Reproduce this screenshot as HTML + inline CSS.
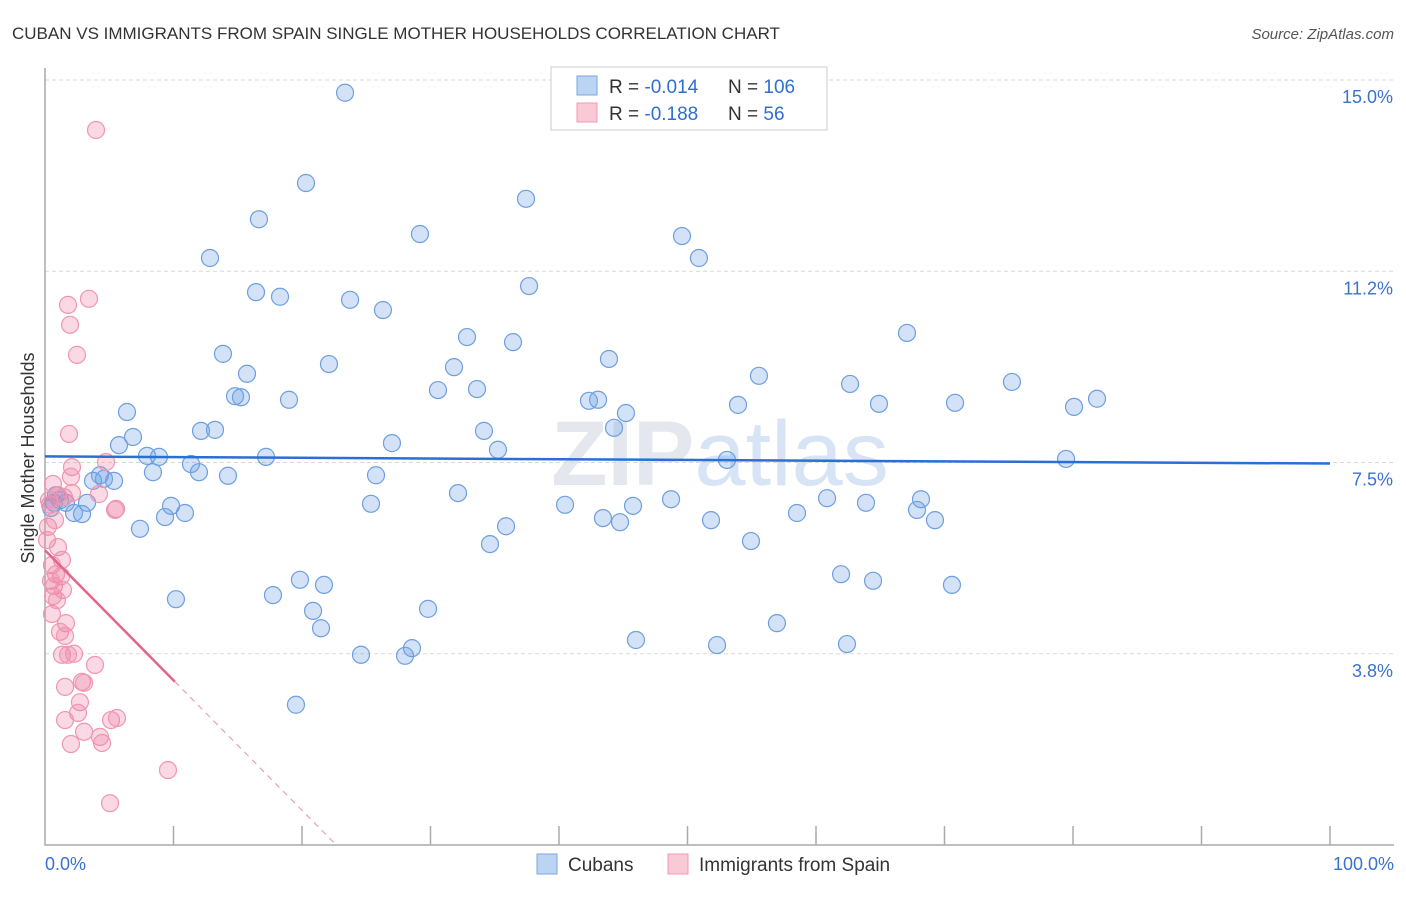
<!DOCTYPE html>
<html><head><meta charset="utf-8"><style>
body{margin:0;background:#fff;font-family:"Liberation Sans",sans-serif;}
svg text{font-family:"Liberation Sans",sans-serif;}
</style></head><body>
<svg id="chart" width="1406" height="892" xmlns="http://www.w3.org/2000/svg">
<text x="12" y="39" font-size="17" fill="#333">CUBAN VS IMMIGRANTS FROM SPAIN SINGLE MOTHER HOUSEHOLDS CORRELATION CHART</text>
<text x="1394" y="39" font-size="15" fill="#555" text-anchor="end" font-style="italic">Source: ZipAtlas.com</text>
<text x="720" y="485" font-size="92" fill="#e4e8ee" text-anchor="middle" font-weight="bold">ZIP<tspan fill="#d6e4f5" font-weight="normal">atlas</tspan></text>
<g id="grid"></g>
<g id="axes"></g>
<g id="pts"></g>
<g id="trends"></g>
<text x="34" y="458" font-size="18" fill="#333" text-anchor="middle" transform="rotate(-90 34 458)">Single Mother Households</text>
<g>
<rect x="551" y="67" width="276" height="63" fill="#fff" stroke="#ccc"/>
<rect x="577" y="76" width="20" height="19" fill="#bcd4f3" stroke="#7aa6e0"/>
<rect x="577" y="103" width="20" height="19" fill="#f9c9d6" stroke="#f09ab2"/>
<text x="609" y="93" font-size="19" fill="#333">R = <tspan fill="#2f6fd0">-0.014</tspan></text>
<text x="728" y="93" font-size="19" fill="#333">N = <tspan fill="#2f6fd0">106</tspan></text>
<text x="609" y="120" font-size="19" fill="#333">R = <tspan fill="#2f6fd0"> -0.188</tspan></text>
<text x="728" y="120" font-size="19" fill="#333">N = <tspan fill="#2f6fd0">  56</tspan></text>
</g>
<g>
<rect x="537" y="854" width="20" height="20" fill="#bcd4f3" stroke="#7aa6e0"/>
<text x="568" y="871" font-size="19" fill="#333">Cubans</text>
<rect x="668" y="854" width="20" height="20" fill="#f9c9d6" stroke="#f09ab2"/>
<text x="699" y="871" font-size="19" fill="#333">Immigrants from Spain</text>
</g>
</svg>
<script>
const yTicks=[15.0,11.25,7.5,3.75];
const yTickLabels=["15.0%","11.2%","7.5%","3.8%"];
const xTicks=[10,20,30,40,50,60,70,80,90,100];
const xLabels=["0.0%","100.0%"];
const cubX=[23.35,20.31,37.43,16.65,29.18,49.57,12.84,50.89,16.42,18.29,37.67,23.74,26.30,67.08,32.84,36.42,13.85,43.89,22.10,31.83,15.72,55.56,75.25,30.58,33.62,62.65,14.79,15.25,18.99,43.04,42.33,53.93,64.90,70.82,81.87,80.08,6.38,45.21,44.28,34.16,12.14,13.23,6.85,27.00,5.76,35.25,7.94,8.87,17.20,53.07,79.46,11.36,8.40,11.98,25.76,14.24,4.28,5.37,4.59,3.74,32.14,48.72,60.86,63.89,68.17,25.37,40.47,45.76,9.81,0.70,1.63,3.27,1.17,10.89,67.86,58.52,43.42,51.83,69.26,2.26,2.88,9.34,44.75,7.39,35.88,0.47,54.94,34.63,61.95,64.44,19.84,70.58,21.71,17.74,10.19,20.86,29.81,21.48,56.96,45.99,52.30,62.41,24.59,28.56,28.02,19.53,0.86];
const cubY=[14.75,12.98,12.67,12.27,11.98,11.94,11.51,11.51,10.84,10.75,10.96,10.69,10.49,10.04,9.96,9.86,9.63,9.53,9.43,9.37,9.24,9.20,9.08,8.92,8.94,9.04,8.80,8.78,8.73,8.73,8.71,8.63,8.65,8.67,8.75,8.59,8.49,8.47,8.18,8.12,8.12,8.14,8.00,7.88,7.84,7.75,7.63,7.61,7.61,7.55,7.57,7.47,7.31,7.31,7.25,7.24,7.25,7.14,7.18,7.14,6.90,6.78,6.80,6.71,6.78,6.69,6.67,6.65,6.65,6.71,6.71,6.71,6.76,6.51,6.57,6.51,6.41,6.37,6.37,6.51,6.49,6.43,6.33,6.20,6.25,6.61,5.96,5.90,5.31,5.18,5.20,5.10,5.10,4.90,4.82,4.59,4.63,4.25,4.35,4.02,3.92,3.94,3.73,3.86,3.71,2.75,6.86];
const spX=[3.97,3.42,1.79,1.95,2.49,1.87,4.75,2.10,2.02,0.62,4.20,1.48,2.10,1.01,5.53,5.45,0.39,0.23,0.16,1.01,1.32,0.54,0.86,1.25,0.47,0.70,0.62,0.54,1.63,1.17,1.56,1.32,2.26,1.79,3.89,2.88,3.04,1.56,2.72,2.57,1.56,5.14,5.60,3.04,4.28,2.02,4.44,9.57,5.06,0.31,0.78,1.40,0.93];
const spY=[14.02,10.71,10.59,10.20,9.61,8.06,7.51,7.41,7.22,7.08,6.88,6.82,6.90,6.86,6.59,6.57,6.67,6.24,5.98,5.84,5.59,5.49,5.31,5.27,5.18,5.08,4.88,4.53,4.35,4.18,4.10,3.73,3.75,3.73,3.53,3.20,3.18,3.10,2.80,2.59,2.45,2.45,2.49,2.22,2.12,1.98,2.00,1.47,0.82,6.76,6.37,5.00,4.80];
const cubTrend=[7.62,7.48];
const spTrend=[5.78,-0.255];
const spSolidEnd=10.1;
const X=v=>45+v*12.85;
const Y=v=>845-v*51;
const NS="http://www.w3.org/2000/svg";
function mk(tag,attrs,parent){const e=document.createElementNS(NS,tag);for(const k in attrs)e.setAttribute(k,attrs[k]);parent.appendChild(e);return e;}
const grid=document.getElementById('grid'),axes=document.getElementById('axes'),pts=document.getElementById('pts'),tr=document.getElementById('trends');
yTicks.forEach((t,i)=>{
  const l=mk('line',{x1:45,x2:1394,y1:Y(t),y2:Y(t),stroke:'#d8d8d8','stroke-dasharray':'4,3'},grid);
  
  
  const tx=mk('text',{x:1393,y:Y(t)+23,'font-size':18,fill:'#3a72d0','text-anchor':'end'},grid);
  tx.textContent=yTickLabels[i];
  
  
});
const ax=mk('path',{d:`M45 68V845H1394`,fill:'none',stroke:'#aaa','stroke-width':1.5},axes);


xTicks.forEach(t=>{
  const l=mk('line',{x1:X(t),x2:X(t),y1:826,y2:845,stroke:'#aaa','stroke-width':1.5},axes);
  
  
});
const xl0=mk('text',{x:45,y:870,'font-size':18,fill:'#3a72d0'},axes);xl0.textContent=xLabels[0];


const xl1=mk('text',{x:1394,y:870,'font-size':18,fill:'#3a72d0','text-anchor':'end'},axes);xl1.textContent=xLabels[1];


cubX.forEach((x,i)=>{
  const c=mk('circle',{cx:X(x),cy:Y(cubY[i]),r:8.5,fill:'rgba(110,160,230,0.3)',stroke:'#6d9fe0','stroke-width':1.2},pts);
  
  
});
spX.forEach((x,i)=>{
  const c=mk('circle',{cx:X(x),cy:Y(spY[i]),r:8.5,fill:'rgba(240,130,165,0.3)',stroke:'#f096b0','stroke-width':1.2},pts);
  
  
});
const bl=mk('line',{x1:X(0),y1:Y(cubTrend[0]),x2:X(100),y2:Y(cubTrend[1]),stroke:'#2a6fd6','stroke-width':2.5},tr);


const sp=v=>spTrend[0]+spTrend[1]*v;
const zeroX=-spTrend[0]/spTrend[1];
const pl=mk('line',{x1:X(0),y1:Y(sp(0)),x2:X(spSolidEnd),y2:Y(sp(spSolidEnd)),stroke:'#e8628a','stroke-width':2.5},tr);


const pd=mk('line',{x1:X(spSolidEnd),y1:Y(sp(spSolidEnd)),x2:X(zeroX),y2:Y(0),stroke:'#e8a0b4','stroke-width':1.2,'stroke-dasharray':'6,5'},tr);


</script>
</body></html>
